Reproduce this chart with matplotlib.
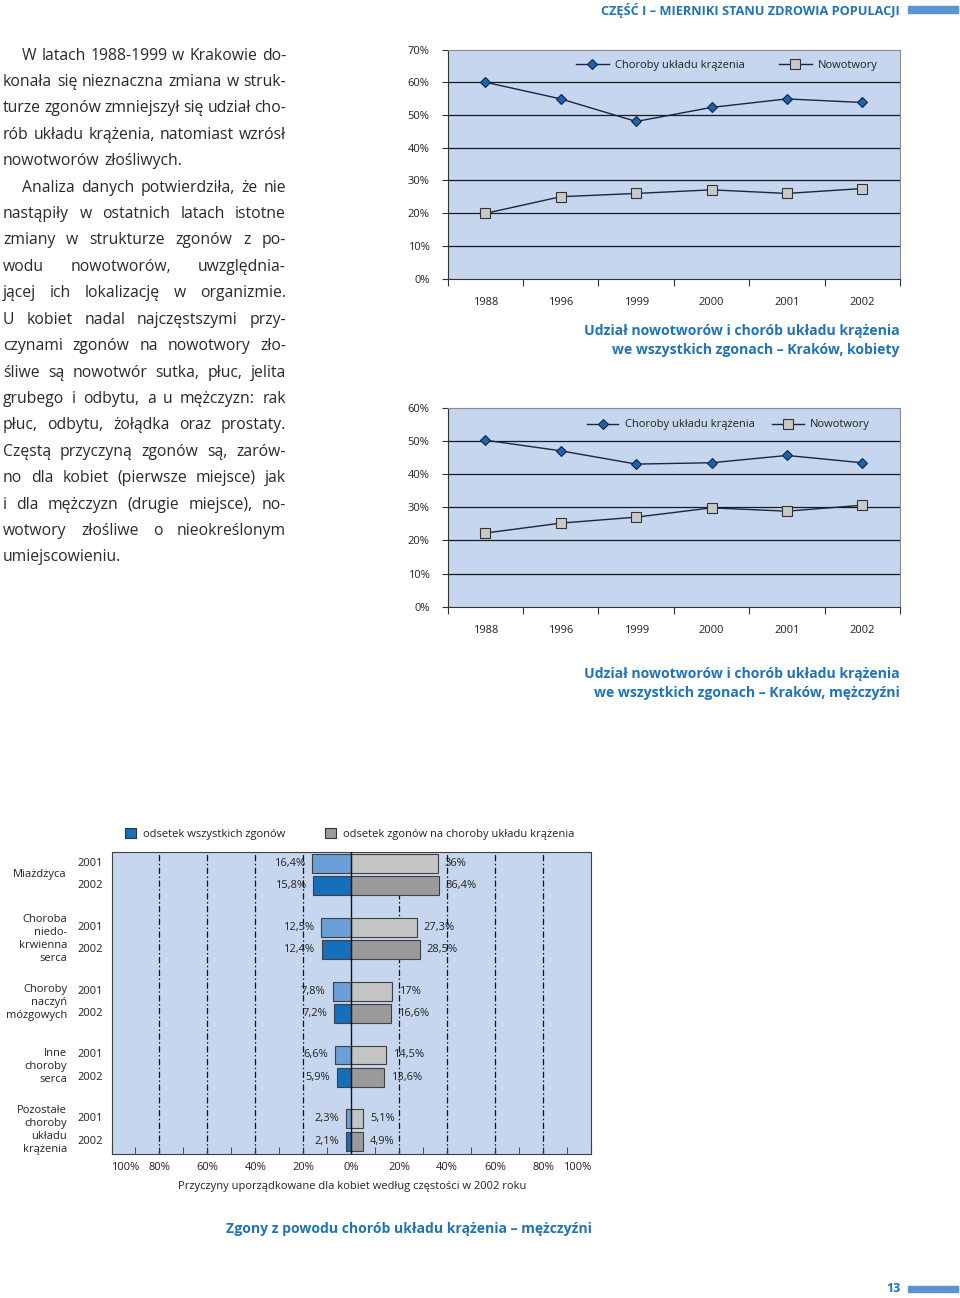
import numpy as np
import matplotlib
matplotlib.use('Agg')
import matplotlib.pyplot as plt
import matplotlib.transforms as mtransforms
from matplotlib.patches import Patch, Rectangle

plt.rcParams['font.family'] = ['Open Sans', 'DejaVu Sans']

W, H = 960, 1298
BLUE_TXT = '#1f73b8'
BG = '#c6d6ef'
INK = '#222222'

# --- data ---
years = ['1988', '1996', '1999', '2000', '2001', '2002']
women_circ = [60.0, 54.9, 48.0, 52.3, 54.9, 53.8]
women_cancer = [19.9, 25.0, 26.0, 27.1, 26.0, 27.5]
men_circ = [50.2, 47.0, 43.0, 43.4, 45.6, 43.4]
men_cancer = [22.2, 25.2, 27.0, 29.8, 28.8, 30.6]

causes = ['Miażdżyca', 'Choroba\nniedo-\nkrwienna\nserca',
          'Choroby\nnaczyń\nmózgowych', 'Inne\nchoroby\nserca',
          'Pozostałe\nchoroby\nukładu\nkrążenia']
all_2001 = [16.4, 12.5, 7.8, 6.6, 2.3]
all_2002 = [15.8, 12.4, 7.2, 5.9, 2.1]
circ_2001 = [36.0, 27.3, 17.0, 14.5, 5.1]
circ_2002 = [36.4, 28.5, 16.6, 13.6, 4.9]

para1 = ["W latach 1988-1999 w Krakowie do-",
         "konała się nieznaczna zmiana w struk-",
         "turze zgonów zmniejszył się udział cho-",
         "rób układu krążenia, natomiast wzrósł",
         "nowotworów złośliwych."]
para2 = ["Analiza danych potwierdziła, że nie",
         "nastąpiły w ostatnich latach istotne",
         "zmiany w strukturze zgonów z po-",
         "wodu nowotworów, uwzględnia-",
         "jącej ich lokalizację w organizmie.",
         "U kobiet nadal najczęstszymi przy-",
         "czynami zgonów na nowotwory zło-",
         "śliwe są nowotwór sutka, płuc, jelita",
         "grubego i odbytu, a u mężczyzn: rak",
         "płuc, odbytu, żołądka oraz prostaty.",
         "Częstą przyczyną zgonów są, zarów-",
         "no dla kobiet (pierwsze miejsce) jak",
         "i dla mężczyzn (drugie miejsce), no-",
         "wotwory złośliwe o nieokreślonym",
         "umiejscowieniu."]


def fx(x):
    return x / W


def fy(y):
    return 1 - y / H


def box(l, t, r, b):
    return [l / W, 1 - b / H, (r - l) / W, (b - t) / H]


fig = plt.figure(figsize=(W / 100, H / 100), dpi=100)

# header and page number
fig.text(fx(900), fy(10), 'CZĘŚĆ I – MIERNIKI STANU ZDROWIA POPULACJI', ha='right',
         va='center', fontsize=9.2, weight='bold', color=BLUE_TXT)
fig.patches.append(Rectangle((fx(908), fy(13)), 50 / W, 7 / H, transform=fig.transFigure,
                             color='#5b93d3'))
fig.text(fx(893), fy(1289), '13', ha='center', va='center', fontsize=9, weight='bold',
         color=BLUE_TXT)
fig.patches.append(Rectangle((fx(908), fy(1292)), 50 / W, 6 / H, transform=fig.transFigure,
                             color='#5b93d3'))

# --- justified body text ---
renderer = fig.canvas.get_renderer()


def body(lines, y0, x0=3, x1=286, indent=19, dy=26.42):
    for i, line in enumerate(lines):
        words = line.split()
        left = x0 + (indent if i == 0 else 0)
        ts = [fig.text(0, 0, w, fontsize=11.3, color='#2a2a2a', va='baseline')
              for w in words]
        ws = [t.get_window_extent(renderer).width for t in ts]
        if i == len(lines) - 1 or len(words) == 1:
            gap = 4.5
        else:
            gap = max(1.5, (x1 - left - sum(ws)) / (len(words) - 1))
        x = left
        y = y0 + i * dy
        for t, w in zip(ts, ws):
            t.set_position((fx(x), fy(y)))
            x += w + gap


body(para1, 59.5)
body(para2, 59.5 + 5 * 26.42)


# --- line charts ---
def line_chart(ax, circ, cancer, ymax, leg_x, leg_y, hlen, colsp):
    x = np.arange(len(years))
    ax.set_facecolor(BG)
    for v in range(10, ymax, 10):
        ax.axhline(v, color='#1a1a1a', lw=0.9, zorder=1)
    ax.plot(x, circ, color='#1c2540', lw=1, marker='D', ms=5, mfc='#1f64a8',
            mec='#10264a', mew=0.8, label='Choroby układu krążenia', zorder=3)
    ax.plot(x, cancer, color='#1c2540', lw=1, marker='s', ms=7.3, mfc='#c9c9c9',
            mec='#333333', mew=0.8, label='Nowotwory', zorder=3)
    ax.set_xlim(-0.5, len(years) - 0.5)
    ax.set_ylim(0, ymax)
    ticks = np.arange(0, ymax + 1, 10)
    ax.set_yticks(ticks)
    ax.set_yticklabels([f'{t}%' for t in ticks])
    ax.set_xticks(np.arange(-0.5, len(years)))
    ax.set_xticklabels([])
    ax.set_xticks(x, minor=True)
    ax.set_xticklabels(years, minor=True)
    ax.tick_params(axis='x', which='major', length=5, direction='out', color='#333333')
    ax.tick_params(axis='x', which='minor', length=0, pad=13.5, labelsize=8, labelcolor=INK)
    ax.tick_params(axis='y', length=4, direction='out', color='#333333', pad=9,
                   labelsize=8, labelcolor=INK)
    for s in ['top', 'right']:
        ax.spines[s].set_color('#8a8a8a')
    for s in ['left', 'bottom']:
        ax.spines[s].set_color('#333333')
    ax.legend(loc='center left', bbox_to_anchor=(fx(leg_x), fy(leg_y)),
              bbox_transform=fig.transFigure, frameon=False, ncol=2, fontsize=8,
              handlelength=hlen, handletextpad=0.57, columnspacing=colsp,
              borderpad=0, borderaxespad=0, labelcolor=INK)


ax1 = fig.add_axes(box(447.7, 49.5, 900, 278.5))
line_chart(ax1, women_circ, women_cancer, 70, 575.7, 65.7, 3.0, 3.0)
ax2 = fig.add_axes(box(447.7, 407.7, 900, 606.7))
line_chart(ax2, men_circ, men_cancer, 60, 586.7, 425, 2.85, 1.6)

cap = dict(ha='right', va='center', fontsize=10.1, weight='bold', color=BLUE_TXT)
fig.text(fx(900), fy(331), 'Udział nowotworów i chorób układu krążenia', **cap)
fig.text(fx(900), fy(350), 'we wszystkich zgonach – Kraków, kobiety', **cap)
fig.text(fx(900), fy(674), 'Udział nowotworów i chorób układu krążenia', **cap)
fig.text(fx(900), fy(693), 'we wszystkich zgonach – Kraków, mężczyźni', **cap)

# --- butterfly bar chart ---
ax3 = fig.add_axes(box(111.5, 852.3, 591, 1154))
ax3.set_facecolor(BG)
g = np.arange(len(causes)) * 2.86 + 0.51
y01 = g
y02 = g + 1.0
bh = 0.85
ax3.barh(y01, -np.array(all_2001), height=bh, color='#6a9fd8', ec='#404040', lw=0.8, zorder=2)
ax3.barh(y02, -np.array(all_2002), height=bh, color='#1470bb', ec='#404040', lw=0.8, zorder=2)
ax3.barh(y01, circ_2001, height=bh, color='#c4c4c4', ec='#404040', lw=0.8, zorder=2)
ax3.barh(y02, circ_2002, height=bh, color='#9a9a9a', ec='#404040', lw=0.8, zorder=2)
for v in [-80, -60, -40, -20, 20, 40, 60, 80]:
    ax3.axvline(v, color='#111111', lw=0.9, ls=(0, (5, 2, 1.2, 2)), zorder=1)
ax3.axvline(0, color='#111111', lw=1, zorder=3)
ax3.set_xlim(-100, 100)
ax3.set_ylim(13.53, 0)


def pct(v):
    return f'{v:g}'.replace('.', ',') + '%'


for yy, a, c in list(zip(y01, all_2001, circ_2001)) + list(zip(y02, all_2002, circ_2002)):
    ax3.annotate(pct(a), xy=(-a, yy), xytext=(-5, 0), textcoords='offset points',
                 ha='right', va='center', fontsize=8, color=INK)
    ax3.annotate(pct(c), xy=(c, yy), xytext=(5, 0), textcoords='offset points',
                 ha='left', va='center', fontsize=8, color=INK)

tr = mtransforms.blended_transform_factory(ax3.transAxes, ax3.transData)
for i, name in enumerate(causes):
    ax3.text((77 - 111.5) / 479.5, y01[i], '2001', transform=tr, ha='left', va='center',
             fontsize=8, color=INK)
    ax3.text((77 - 111.5) / 479.5, y02[i], '2002', transform=tr, ha='left', va='center',
             fontsize=8, color=INK)
    ax3.text((67 - 111.5) / 479.5, (y01[i] + y02[i]) / 2, name, transform=tr, ha='right',
             va='center', multialignment='right', fontsize=8, linespacing=1.25, color=INK)

xt = np.arange(-100, 101, 20)
ax3.set_xticks(xt)
ax3.set_xticklabels([f'{abs(t)}%' for t in xt])
ax3.set_xticks(np.arange(-100, 101, 10), minor=True)
ax3.tick_params(axis='x', which='both', direction='in', length=5, color='#333333', pad=6,
                labelsize=8, labelcolor=INK)
ax3.set_yticks([])
labs = ax3.get_xticklabels()
labs[0].set_ha('left')
labs[-1].set_ha('right')
for s in ax3.spines.values():
    s.set_color('#404040')

ax3.legend(handles=[Patch(fc='#1470bb', ec='#333333', lw=0.8, label='odsetek wszystkich zgonów'),
                    Patch(fc='#9a9a9a', ec='#333333', lw=0.8,
                          label='odsetek zgonów na choroby układu krążenia')],
           loc='center left', bbox_to_anchor=(fx(125), fy(834)), bbox_transform=fig.transFigure,
           frameon=False, ncol=2, fontsize=8, handlelength=1.0, handleheight=0.9,
           handletextpad=0.6, columnspacing=3.6, borderpad=0, borderaxespad=0, labelcolor=INK)

fig.text(fx(352), fy(1187), 'Przyczyny uporządkowane dla kobiet według częstości w 2002 roku',
         ha='center', va='center', fontsize=8, color=INK)
fig.text(fx(592), fy(1229), 'Zgony z powodu chorób układu krążenia – mężczyźni', ha='right',
         va='center', fontsize=10.1, weight='bold', color=BLUE_TXT)

fig.savefig('out.png', dpi=100)
